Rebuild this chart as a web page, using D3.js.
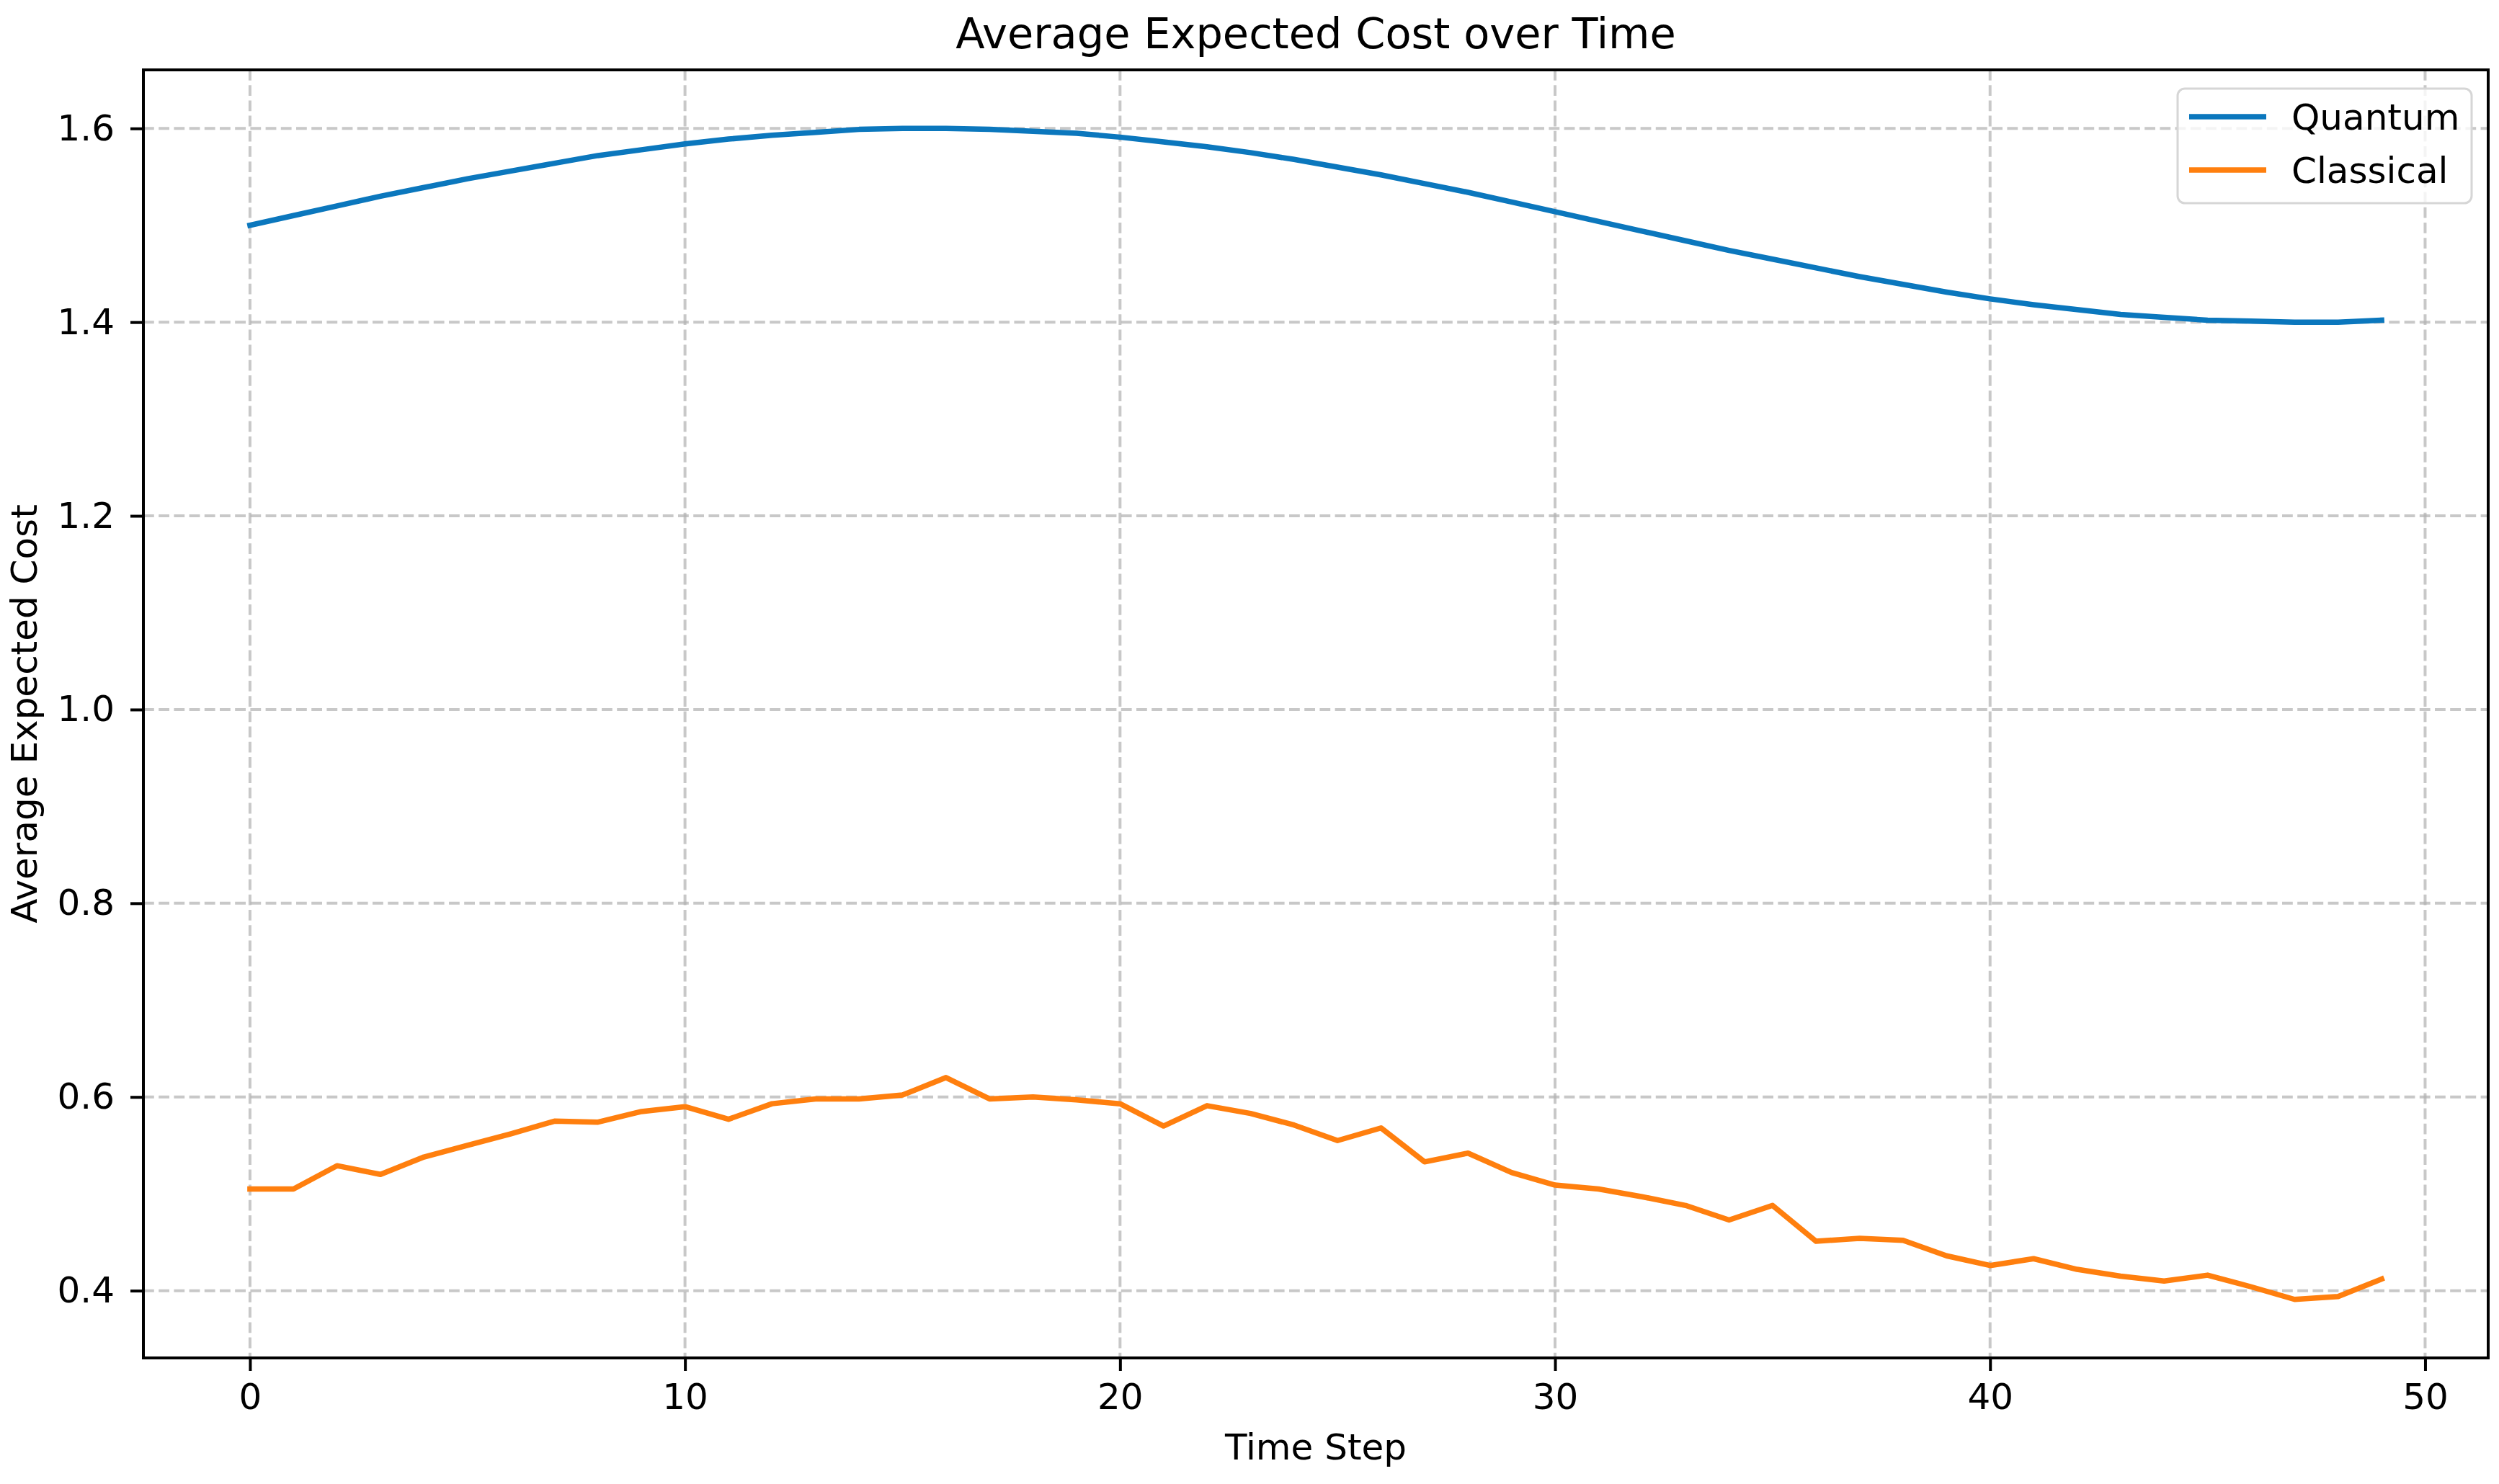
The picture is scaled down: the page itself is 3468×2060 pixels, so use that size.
<!DOCTYPE html>
<html>
<head>
<meta charset="utf-8">
<script src="https://cdn.jsdelivr.net/npm/d3@7"></script>
<style>
  body { margin: 0; background: #fff; }
  svg { display: block; font-family: 'DejaVu Sans', sans-serif; }
</style>
</head>
<body>
<div class="container"></div>
<script>
// Data
const timeSteps = d3.range(50);
const quantum = [
  1.500, 1.510, 1.520, 1.530, 1.539, 1.548, 1.556, 1.564, 1.572, 1.578,
  1.584, 1.589, 1.593, 1.596, 1.599, 1.600, 1.600, 1.599, 1.597, 1.595,
  1.591, 1.586, 1.581, 1.575, 1.568, 1.560, 1.552, 1.543, 1.534, 1.524,
  1.514, 1.504, 1.494, 1.484, 1.474, 1.465, 1.456, 1.447, 1.439, 1.431,
  1.424, 1.418, 1.413, 1.408, 1.405, 1.402, 1.401, 1.400, 1.400, 1.402,
];
const classical = [
  0.505, 0.505, 0.529, 0.520, 0.538, 0.550, 0.562, 0.575, 0.574, 0.585,
  0.590, 0.577, 0.593, 0.598, 0.598, 0.602, 0.620, 0.598, 0.600, 0.597,
  0.593, 0.570, 0.591, 0.583, 0.571, 0.555, 0.568, 0.533, 0.542, 0.522,
  0.509, 0.505, 0.497, 0.488, 0.473, 0.488, 0.451, 0.454, 0.452, 0.436,
  0.426, 0.433, 0.422, 0.415, 0.410, 0.416, 0.404, 0.391, 0.394, 0.412,
];
const seriesNames = ['Quantum', 'Classical'];
const xTicks = [0, 10, 20, 30, 40, 50];
const yTicks = [0.4, 0.6, 0.8, 1.0, 1.2, 1.4, 1.6];

// Constants
const width = 3468;
const height = 2060;
const margin = { top: 97, right: 15, bottom: 175, left: 199 };
const innerW = width - margin.left - margin.right;
const innerH = height - margin.top - margin.bottom;
const colors = ['#0b77bd', '#ff7f0e'];

const svg = d3
  .select('.container')
  .append('svg')
  .attr('width', width)
  .attr('height', height);

const g = svg
  .append('g')
  .attr('transform', `translate(${margin.left},${margin.top})`);

// Scales, with matplotlib-like 5% margins
const xPad = 49 * 0.05;
const x = d3.scaleLinear().domain([-xPad, 49 + xPad]).range([0, innerW]);
const yMin = d3.min(classical);
const yMax = d3.max(quantum);
const yPad = (yMax - yMin) * 0.05;
const y = d3
  .scaleLinear()
  .domain([yMin - yPad, yMax + yPad])
  .range([innerH, 0]);

// Grid
const grid = g
  .append('g')
  .attr('class', 'grid')
  .attr('stroke', '#b0b0b0')
  .attr('stroke-opacity', 0.7)
  .attr('stroke-width', 4)
  .attr('stroke-dasharray', '14.8,6.4');

grid
  .selectAll('line.gx')
  .data(xTicks)
  .enter()
  .append('line')
  .attr('class', 'gx')
  .attr('x1', (d) => x(d))
  .attr('x2', (d) => x(d))
  .attr('y1', 0)
  .attr('y2', innerH);

grid
  .selectAll('line.gy')
  .data(yTicks)
  .enter()
  .append('line')
  .attr('class', 'gy')
  .attr('y1', (d) => y(d))
  .attr('y2', (d) => y(d))
  .attr('x1', 0)
  .attr('x2', innerW);

// Lines
const line = d3
  .line()
  .x((d, i) => x(timeSteps[i]))
  .y((d) => y(d));

[quantum, classical].forEach((values, i) => {
  g.append('path')
    .datum(values)
    .attr('fill', 'none')
    .attr('stroke', colors[i])
    .attr('stroke-width', 7.5)
    .attr('stroke-linejoin', 'round')
    .attr('stroke-linecap', 'square')
    .attr('d', line);
});

// Axes
const xAxis = d3
  .axisBottom(x)
  .tickValues(xTicks)
  .tickSize(18)
  .tickSizeOuter(0)
  .tickPadding(17)
  .tickFormat(d3.format('d'));

const yAxis = d3
  .axisLeft(y)
  .tickValues(yTicks)
  .tickSize(18)
  .tickSizeOuter(0)
  .tickPadding(22)
  .tickFormat(d3.format('.1f'));

[
  g.append('g').attr('transform', `translate(0,${innerH})`).call(xAxis),
  g.append('g').call(yAxis),
].forEach((ax) => {
  ax.select('.domain').remove();
  ax.selectAll('.tick line').attr('stroke', '#000').attr('stroke-width', 4);
  ax.selectAll('.tick text')
    .attr('fill', '#000')
    .style('font-size', '50px')
    .style('font-family', 'DejaVu Sans');
});

// Frame
g.append('rect')
  .attr('width', innerW)
  .attr('height', innerH)
  .attr('fill', 'none')
  .attr('stroke', '#000')
  .attr('stroke-width', 4);

// Title and labels
svg
  .append('text')
  .attr('x', margin.left + innerW / 2)
  .attr('y', 67)
  .attr('text-anchor', 'middle')
  .style('font-size', '59px')
  .text('Average Expected Cost over Time');

svg
  .append('text')
  .attr('x', margin.left + innerW / 2)
  .attr('y', 2026)
  .attr('text-anchor', 'middle')
  .style('font-size', '50px')
  .text('Time Step');

svg
  .append('text')
  .attr('transform', `translate(51,${margin.top + innerH / 2}) rotate(-90)`)
  .attr('text-anchor', 'middle')
  .style('font-size', '50px')
  .text('Average Expected Cost');

// Legend
const legend = svg.append('g').attr('transform', 'translate(3022,123)');

legend
  .append('rect')
  .attr('width', 408)
  .attr('height', 159)
  .attr('rx', 10)
  .attr('fill', '#fff')
  .attr('fill-opacity', 0.8)
  .attr('stroke', '#d6d6d6')
  .attr('stroke-width', 3);

const items = legend
  .selectAll('g.item')
  .data(seriesNames)
  .enter()
  .append('g')
  .attr('class', 'item')
  .attr('transform', (d, i) => `translate(0,${39 + i * 74})`);

items
  .append('line')
  .attr('x1', 16)
  .attr('x2', 123)
  .attr('stroke', (d, i) => colors[i])
  .attr('stroke-width', 7.5);

items
  .append('text')
  .attr('x', 158)
  .attr('y', 18)
  .style('font-size', '50px')
  .text((d) => d);
</script>
</body>
</html>
